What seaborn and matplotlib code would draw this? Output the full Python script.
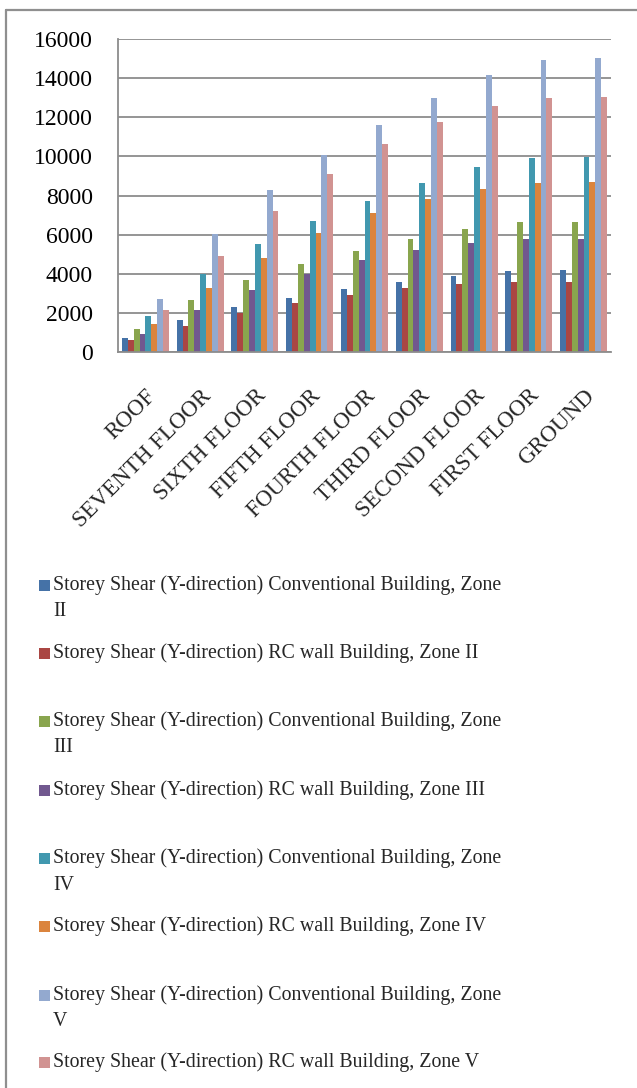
import matplotlib
matplotlib.use("Agg")
import matplotlib.pyplot as plt
from matplotlib.lines import Line2D
from matplotlib.patches import Rectangle
import seaborn as sns
import pandas as pd
import numpy as np

floors = ["ROOF", "SEVENTH FLOOR", "SIXTH FLOOR", "FIFTH FLOOR", "FOURTH FLOOR",
          "THIRD FLOOR", "SECOND FLOOR", "FIRST FLOOR", "GROUND"]

series_names = [
    "Storey Shear (Y-direction) Conventional Building, Zone II",
    "Storey Shear (Y-direction) RC wall Building, Zone II",
    "Storey Shear (Y-direction) Conventional Building, Zone III",
    "Storey Shear (Y-direction) RC wall Building, Zone III",
    "Storey Shear (Y-direction) Conventional Building, Zone IV",
    "Storey Shear (Y-direction) RC wall Building, Zone IV",
    "Storey Shear (Y-direction) Conventional Building, Zone V",
    "Storey Shear (Y-direction) RC wall Building, Zone V",
]

conv_zone2 = [740, 1660, 2290, 2780, 3210, 3590, 3890, 4130, 4170]
rcw_zone2 = [590, 1350, 2000, 2510, 2930, 3260, 3470, 3590, 3600]
conv_zone3 = [1200, 2660, 3690, 4480, 5160, 5760, 6290, 6630, 6640]
rcw_zone3 = [940, 2150, 3190, 4010, 4700, 5210, 5570, 5760, 5770]
conv_zone4 = [1830, 4000, 5520, 6710, 7740, 8630, 9450, 9940, 9990]
rcw_zone4 = [1420, 3260, 4800, 6060, 7090, 7820, 8350, 8660, 8690]
conv_zone5 = [2720, 6030, 8280, 10060, 11610, 12980, 14180, 14930, 15010]
rcw_zone5 = [2140, 4890, 7210, 9120, 10620, 11770, 12570, 13000, 13050]

all_series = [conv_zone2, rcw_zone2, conv_zone3, rcw_zone3,
              conv_zone4, rcw_zone4, conv_zone5, rcw_zone5]

colors = ["#4572A7", "#AA4643", "#89A54E", "#71588F",
          "#4198AF", "#DB843D", "#93A9CF", "#D19392"]

rows = []
for name, vals in zip(series_names, all_series):
    for fl, v in zip(floors, vals):
        rows.append({"Floor": fl, "Series": name, "Shear": v})
df = pd.DataFrame(rows)

sns.set_style("white")
plt.rcParams["font.family"] = ["Liberation Serif", "DejaVu Serif"]

W, H = 637, 1088
fig = plt.figure(figsize=(W / 100, H / 100), dpi=100)
ax = fig.add_axes([118 / W, 1 - 352 / H, (611 - 118) / W, (352 - 39) / H])

sns.barplot(data=df, x="Floor", y="Shear", hue="Series", order=floors,
            hue_order=series_names, palette=colors, saturation=1,
            width=0.86, linewidth=0, legend=False, ax=ax)

grid_c = "#8c8c8c"
ax.set_ylim(0, 16000)
ax.set_xlim(-0.5, len(floors) - 0.5)
ax.set_yticks(np.arange(0, 16001, 2000))
ax.yaxis.grid(True, color=grid_c, linewidth=1.3)
ax.set_axisbelow(True)
ax.set_xlabel("")
ax.set_ylabel("")
for side in ["top", "right"]:
    ax.spines[side].set_visible(False)
for side in ["left", "bottom"]:
    ax.spines[side].set_color(grid_c)
    ax.spines[side].set_linewidth(1.3)

ax.tick_params(axis="y", length=5, width=1.3, color=grid_c, pad=13,
               labelsize=17, labelcolor="black")
ax.set_xticks(np.arange(len(floors)))
ax.set_xticks(np.arange(len(floors) + 1) - 0.5, minor=True)
ax.tick_params(axis="x", which="major", length=0, pad=24)
ax.tick_params(axis="x", which="minor", length=6, width=1.3, color=grid_c)
ax.set_xticklabels(floors, rotation=45, ha="right", va="top",
                   rotation_mode="anchor", fontsize=16.5)

# outer chart frame (top and left edges)
fig.add_artist(Line2D([6 / W, 1], [1 - 10 / H, 1 - 10 / H],
                      transform=fig.transFigure, color="#8f8f8f", lw=1.6))
fig.add_artist(Line2D([6 / W, 6 / W], [1 - 10 / H, 0],
                      transform=fig.transFigure, color="#8f8f8f", lw=1.6))

# legend below the plot
legend_fs = 14.3
legend_y = [585, 653, 721, 790, 858, 926, 995, 1062]
for name, col, yc in zip(series_names, colors, legend_y):
    fig.add_artist(Rectangle((39 / W, 1 - (yc + 5.5) / H), 11 / W, 11 / H,
                             transform=fig.transFigure, facecolor=col,
                             edgecolor="none"))
    if "Conventional" in name:
        head, zone = name.rsplit(" ", 1)
        fig.text(53 / W, 1 - yc / H, head, fontsize=legend_fs, va="center", ha="left")
        fig.text(53 / W, 1 - (yc + 27) / H, zone, fontsize=legend_fs, va="center", ha="left")
    else:
        fig.text(53 / W, 1 - yc / H, name, fontsize=legend_fs, va="center", ha="left")

fig.savefig("out.png", dpi=100)
